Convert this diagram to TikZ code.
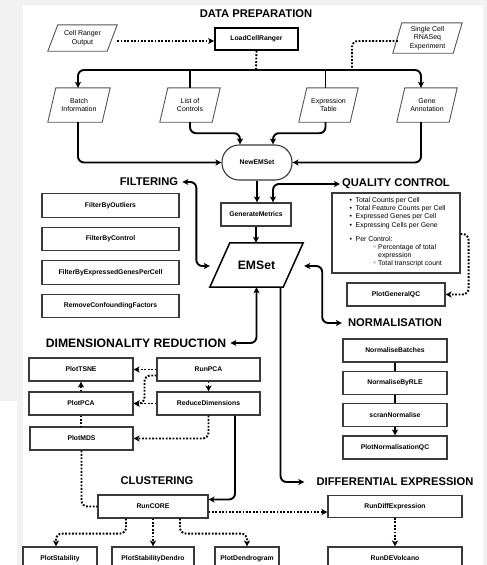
\documentclass[tikz,border=0pt]{standalone}
\usepackage{fontspec}
\setmainfont{Liberation Sans}
\newfontfamily\symfont{DejaVu Sans}
\usetikzlibrary{arrows.meta,calc}
\definecolor{canvas}{HTML}{F2F2F2}
\definecolor{edge}{HTML}{3A3A3A}
\definecolor{slantedge}{HTML}{555555}

% outline of a slanted (data) shape drawn around a named node
\newcommand\slantoutline[3]{%
  \draw[#3] ([xshift=#2]#1.north west) -- (#1.north east)
    -- ([xshift=-#2]#1.south east) -- (#1.south west) -- cycle;}
\newcommand\qcpoint[1]{\makebox[6pt][l]{\textbullet}#1}
\newcommand\qcsub[1]{\hspace*{23pt}\makebox[5.5pt][l]{{\symfont ◦}}#1}

\begin{document}
\begin{tikzpicture}[x=1pt,y=-1pt,
  >={Stealth[length=6pt,width=6pt,inset=1.5pt]},
  box/.style={draw=edge, line width=1.1pt, fill=white, inner sep=0,
    minimum height=23pt, font=\bfseries\fontsize{6.8}{8}\selectfont},
  title/.style={inner sep=0, font=\bfseries\fontsize{11.2}{13}\selectfont},
  slanted/.style={inner sep=0, align=center, font=\fontsize{7}{8.5}\selectfont},
  slantline/.style={draw=slantedge, line width=0.9pt},
  conn/.style={line width=1.9pt, rounded corners=6pt},
  dots/.style={line width=1.9pt, dash pattern=on 1.8pt off 1.6pt, rounded corners=6pt}]

\useasboundingbox (0,0) rectangle (487,565);
\clip (0,0) rectangle (487,565);

% canvas
\fill[canvas] (0,0) rectangle (487,565);
\fill[white] (23,5) rectangle (483,565);
\fill[white] (0,401) rectangle (17,565);

% ---------- data preparation ----------
\node[title] (tdp) at (256,14) {DATA PREPARATION};
\node[slanted, minimum width=69pt, minimum height=26pt] (cro) at (82.5,38) {Cell Ranger\\Output};
\slantoutline{cro}{10pt}{slantline}
\node[box, draw=black, line width=1.7pt, minimum width=83pt, minimum height=22pt] (lcr) at (256.5,39) {LoadCellRanger};
\node[slanted, minimum width=69pt, minimum height=30pt] (scr) at (427.5,38) {Single Cell\\RNASeq\\Experiment};
\slantoutline{scr}{9pt}{slantline}

\node[slanted, minimum width=62pt, minimum height=34pt] (bi) at (79,105) {Batch\\Information};
\slantoutline{bi}{8pt}{slantline}
\node[slanted, minimum width=60pt, minimum height=34pt] (lc) at (190,105) {List of\\Controls};
\slantoutline{lc}{8pt}{slantline}
\node[slanted, minimum width=59pt, minimum height=34pt] (et) at (328.5,105) {Expression\\Table};
\slantoutline{et}{8pt}{slantline}
\node[slanted, minimum width=60pt, minimum height=34pt] (ga) at (427,105) {Gene\\Annotation};
\slantoutline{ga}{8pt}{slantline}

\node[box, rounded corners=17pt, minimum width=70pt, minimum height=35pt] (nem) at (257,162.5) {NewEMSet};
\node[box, minimum width=70pt] (gm) at (256,214.5) {GenerateMetrics};
\node[inner sep=0, minimum width=93pt, minimum height=44pt,
  font=\bfseries\fontsize{12.2}{14}\selectfont] (ems) at (256.5,265) {EMSet};
\slantoutline{ems}{20pt}{draw=black, line width=1.5pt}

% ---------- filtering ----------
\node[title] (tfi) at (149,182) {FILTERING};
\node[box, minimum width=137pt, minimum height=23.5pt] (fo) at (110.5,205.5) {FilterByOutliers};
\node[box, minimum width=137pt, minimum height=23.5pt] (fc) at (110.5,239) {FilterByControl};
\node[box, minimum width=137pt, minimum height=23.5pt] (fe) at (110.5,272.5) {FilterByExpressedGenesPerCell};
\node[box, minimum width=137pt, minimum height=23.5pt] (rc) at (110.5,306) {RemoveConfoundingFactors};

% ---------- quality control ----------
\node[title] (tqc) at (396,184) {QUALITY CONTROL};
\node[box, minimum width=128pt, minimum height=80pt] (qc) at (396,233) {};
\node[anchor=north west, inner sep=0, align=left, font=\fontsize{6.9}{8.1}\selectfont] (qcl) at (349.5,197.5)
  {\qcpoint{Total Counts per Cell}\\
   \qcpoint{Total Feature Counts per Cell}\\
   \qcpoint{Expressed Genes per Cell}\\
   \qcpoint{Expressing Cells per Gene}\\[6.5pt]
   \qcpoint{Per Control:}\\
   \qcsub{Percentage of total}\\
   \hspace*{28.5pt}expression\\
   \qcsub{Total transcript count}};
\node[box, minimum width=98pt] (pgq) at (396,294.5) {PlotGeneralQC};

% ---------- normalisation ----------
\node[title] (tno) at (395,323) {NORMALISATION};
\node[box, minimum width=104pt] (nb) at (395,350.5) {NormaliseBatches};
\node[box, minimum width=104pt] (nr) at (395,383) {NormaliseByRLE};
\node[box, minimum width=104pt] (sn) at (395,415) {scranNormalise};
\node[box, minimum width=104pt] (pnq) at (395,447.5) {PlotNormalisationQC};

% ---------- dimensionality reduction ----------
\node[title, font=\bfseries\fontsize{12.2}{14}\selectfont] (tdr) at (136,343) {DIMENSIONALITY REDUCTION};
\node[box, minimum width=104pt] (ptsne) at (81,369.5) {PlotTSNE};
\node[box, minimum width=103pt] (rpca) at (208.5,369.5) {RunPCA};
\node[box, minimum width=104pt] (ppca) at (81,403.5) {PlotPCA};
\node[box, minimum width=103pt] (rdim) at (208.5,403.5) {ReduceDimensions};
\node[box, minimum width=103pt] (pmds) at (81.5,438.5) {PlotMDS};

% ---------- clustering ----------
\node[title] (tcl) at (157,481) {CLUSTERING};
\node[box, minimum width=110pt] (rcore) at (153,506.5) {RunCORE};
\node[box, minimum width=74pt] (pstab) at (60,558.5) {PlotStability};
\node[box, minimum width=82pt] (psd) at (153,558.5) {PlotStabilityDendro};
\node[box, minimum width=64pt] (pden) at (247,558.5) {PlotDendrogram};

% ---------- differential expression ----------
\node[title] (tde) at (395,482) {DIFFERENTIAL EXPRESSION};
\node[box, minimum width=134pt, minimum height=22pt] (rde) at (395,506.5) {RunDiffExpression};
\node[box, minimum width=134pt] (rdv) at (395,558.5) {RunDEVolcano};

% ---------- connectors: data preparation ----------
\coordinate (bus) at (256,70);
\coordinate (scrbus) at (352,70);
\coordinate (etn) at ([xshift=-3pt]et.north);
\coordinate (ets) at ([xshift=-3pt]et.south);
\coordinate (gan) at ([xshift=-6pt]ga.north);
\coordinate (gas) at ([xshift=-6pt]ga.south);
\coordinate (bin) at ([xshift=-1pt]bi.north);
\coordinate (bis) at ([xshift=-1pt]bi.south);

\draw[dots,->] ([yshift=-3pt]cro.east) -- ([yshift=-3pt]cro.east -| lcr.west);
\draw[dots] (lcr.south) -- (bus);
\draw[dots] ([xshift=5pt,yshift=-3pt]scr.west) -| (scrbus);
\draw[conn,<->] (bin) |- (bus) -| (gan);
\draw[conn] (lc.north |- bus) -- (lc.north);
\draw[conn] (etn |- bus) -- (etn);

\draw[conn,->] (bis) |- (nem.west);
\draw[conn,->] (lc.south) -- ++(0,11) -| ([xshift=-17pt]nem.north);
\draw[conn,->] (ets) -- ++(0,11) -| ([xshift=16pt]nem.north);
\draw[conn,->] (gas) |- (nem.east);
\draw[conn,->] (nem.south) -- (nem.south |- gm.north);
\draw[conn,<->] ([xshift=17pt]gm.north) |- ([xshift=-2pt]tqc.west);
\draw[conn,->] (gm.south) -- (gm.south |- ems.north);

% ---------- connectors: EMSet hub ----------
\draw[conn,<->] ([xshift=4pt]tfi.east) -- ++(14,0) |- ([yshift=-1pt]ems.west);
\draw[conn,<->] ([xshift=1pt,yshift=-1pt]ems.east) -- ++(18,0) |- ([xshift=-6pt]tno.west);
\draw[conn,<->] (ems.south) |- ([xshift=4pt]tdr.east);
\draw[conn,->] ([xshift=24pt]ems.south) |- ([xshift=-12pt]tde.west);

% ---------- connectors: quality control ----------
\draw[dots,->] ([yshift=-1pt]qc.east) -- ++(8,0) |- (pgq.east);

% ---------- connectors: normalisation ----------
\draw[conn] (nb) -- (nr);
\draw[conn] (nr) -- (sn);
\draw[conn,->] (sn) -- (pnq);

% ---------- connectors: dimensionality reduction ----------
\draw[dots,->] (rpca) -- (ptsne);
\draw[dots,->] ([yshift=-6pt]rpca.west) -- ++(-12,0) |- (ppca.east);
\draw[dots,->] (rdim) -- (ppca);
\draw[dots,->] (rpca) -- (rdim);
\draw[dots,->] (ppca.north) -- (ppca.north |- ptsne.south);
\draw[dots] (ppca.south) -- (ppca.south |- pmds.north);
\draw[dots,->] (rdim.south) |- (pmds.east);
\draw[conn,->] ([xshift=26.5pt]rdim.south) |- ([yshift=7pt]rcore.east);

% ---------- connectors: clustering ----------
\coordinate (coreout) at ([yshift=-5.5pt]rcore.east);
\draw[dots] (pmds.south) |- (rcore.west);
\draw[dots,->] (coreout) -- (coreout -| rde.west);
\draw[dots,->] ([xshift=-27pt]rcore.south) -- ++(0,15) -| ([xshift=-4pt]pstab.north);
\draw[dots,->] (rcore.south) -- (rcore.south |- psd.north);
\draw[dots,->] ([xshift=27pt]rcore.south) -- ++(0,15) -| (pden.north);

% ---------- connectors: differential expression ----------
\draw[dots,->] (rde) -- (rdv);

\end{tikzpicture}
\end{document}
